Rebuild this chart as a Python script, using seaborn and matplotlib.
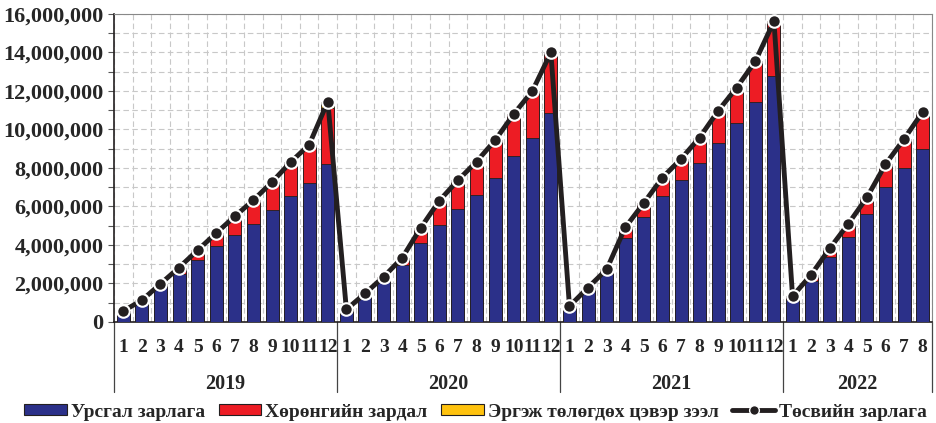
import seaborn as sns
import matplotlib.pyplot as plt
import matplotlib.transforms as mtransforms
from matplotlib.patches import Patch
from matplotlib.lines import Line2D
from matplotlib.ticker import FuncFormatter, MultipleLocator
import pandas as pd
import numpy as np

sns.set_style("white")
plt.rcParams['font.family'] = ['Liberation Serif', 'DejaVu Serif']
plt.rcParams['font.weight'] = 'bold'

# values in million tugrik
years = ["2019", "2020", "2021", "2022"]
months_per_year = [12, 12, 12, 8]

current_exp = [0.52, 1.04, 1.90, 2.48, 3.20, 3.96, 4.51, 5.07, 5.80, 6.53, 7.22, 8.21,
               0.58, 1.34, 2.12, 2.95, 4.08, 5.03, 5.87, 6.58, 7.50, 8.64, 9.58, 10.88,
               0.75, 1.65, 2.48, 4.37, 5.45, 6.54, 7.39, 8.24, 9.29, 10.33, 11.44, 12.77,
               1.13, 2.12, 3.38, 4.42, 5.59, 6.99, 7.98, 8.97]
capital_exp = [0.05, 0.09, 0.08, 0.35, 0.53, 0.66, 0.98, 1.26, 1.47, 1.77, 1.99, 2.89,
               0.07, 0.14, 0.22, 0.38, 0.81, 1.27, 1.49, 1.75, 1.94, 2.16, 2.41, 3.12,
               0.07, 0.14, 0.25, 0.54, 0.73, 0.96, 1.08, 1.34, 1.68, 1.85, 2.11, 2.85,
               0.21, 0.33, 0.44, 0.68, 0.88, 1.20, 1.53, 1.94]
net_lending = [0, 0, 0, 0, 0, 0, 0, 0, 0, 0, 0, 0.35,
               0, 0, 0, 0, 0, 0, 0, 0, 0, 0, 0, 0,
               0, 0, 0, 0, 0, 0, 0, 0, 0, 0, 0, -0.06,
               0, 0, 0, 0, 0, 0, 0, 0]
budget_exp = [0.57, 1.13, 1.98, 2.83, 3.73, 4.62, 5.49, 6.33, 7.27, 8.30, 9.21, 11.45,
              0.65, 1.48, 2.34, 3.33, 4.89, 6.30, 7.36, 8.33, 9.44, 10.80, 11.99, 14.00,
              0.82, 1.79, 2.73, 4.91, 6.18, 7.50, 8.47, 9.58, 10.97, 12.18, 13.55, 15.62,
              1.34, 2.45, 3.82, 5.10, 6.47, 8.19, 9.51, 10.91]

month_labels = [str(m) for n in months_per_year for m in range(1, n + 1)]

df = pd.DataFrame({
    "pos": np.arange(len(month_labels)),
    "current": np.array(current_exp) * 1e6,
    "capital": np.array(capital_exp) * 1e6,
    "lending": np.array(net_lending) * 1e6,
    "budget": np.array(budget_exp) * 1e6,
})
df["cur_cap"] = df["current"] + df["capital"]
df["cur_cap_pos_lend"] = df["cur_cap"] + df["lending"].clip(lower=0)
df["neg_lend"] = df["lending"].clip(upper=0)

c_blue, c_red, c_yel, c_line = "#2B3089", "#ED1C24", "#FFC20E", "#231F20"

fig = plt.figure(figsize=(9.36, 4.23), dpi=100)
ax = fig.add_axes([0.1218, 0.2388, 0.8739, 0.7281])

bar_kw = dict(width=0.7, saturation=1, edgecolor=c_line, linewidth=0.6, zorder=3)
sns.barplot(data=df, x="pos", y="cur_cap_pos_lend", color=c_yel, ax=ax, **bar_kw)
sns.barplot(data=df, x="pos", y="cur_cap", color=c_red, ax=ax, **bar_kw)
sns.barplot(data=df, x="pos", y="current", color=c_blue, ax=ax, **bar_kw)
sns.barplot(data=df, x="pos", y="neg_lend", color=c_yel, ax=ax, width=0.7,
            saturation=1, linewidth=0, zorder=3)

sns.lineplot(data=df, x="pos", y="budget", color=c_line, linewidth=3.5, marker="o",
             markersize=9, markerfacecolor=c_line, markeredgecolor="white",
             markeredgewidth=1.5, ax=ax, zorder=5)

ax.set_xlim(-0.5, len(month_labels) - 0.5)
ax.set_ylim(0, 16e6)
ax.yaxis.set_major_locator(MultipleLocator(2e6))
ax.yaxis.set_minor_locator(MultipleLocator(1e6))
ax.yaxis.set_major_formatter(FuncFormatter(lambda v, p: f"{v:,.0f}"))
ax.tick_params(axis="y", which="both", direction="out", length=4, width=0.8,
               labelsize=16, left=True, color="#555555")
ax.set_xticks(np.arange(len(month_labels)))
ax.set_xticks(np.arange(len(month_labels) + 1) - 0.5, minor=True)
ax.set_xticklabels(month_labels, fontsize=14, fontweight="bold")
ax.tick_params(axis="x", which="both", length=0, pad=12)
ax.grid(True, which="minor", axis="both", linestyle=(0, (5, 3)), color="#C8C8C8",
        linewidth=0.8, zorder=0)
ax.grid(True, which="major", axis="y", linestyle=(0, (5, 3)), color="#C8C8C8",
        linewidth=0.8, zorder=0)
ax.set_axisbelow(True)
ax.set_xlabel("")
ax.set_ylabel("")
for lab in ax.get_yticklabels():
    lab.set_fontweight("bold")

for side in ["left", "bottom"]:
    ax.spines[side].set_color(c_line)
    ax.spines[side].set_linewidth(1.2)
for side in ["top", "right"]:
    ax.spines[side].set_color("#888888")
    ax.spines[side].set_linewidth(0.8)

# year groups under the month labels
trans = mtransforms.blended_transform_factory(ax.transData, ax.transAxes)
start = 0
bounds = [-0.5]
for yr, n in zip(years, months_per_year):
    ax.text(start + (n - 1) / 2, -0.2, yr, transform=trans, ha="center", va="center",
            fontsize=14.5, fontweight="bold")
    start += n
    bounds.append(start - 0.5)
for b in bounds:
    ax.plot([b, b], [0, -0.228], transform=trans, color="#444444", linewidth=0.9,
            clip_on=False)

handles = [
    Patch(facecolor=c_blue, edgecolor=c_line, linewidth=0.8),
    Patch(facecolor=c_red, edgecolor=c_line, linewidth=0.8),
    Patch(facecolor=c_yel, edgecolor=c_line, linewidth=0.8),
    Line2D([], [], color=c_line, linewidth=3.5, marker="o", markersize=7,
           markerfacecolor=c_line, markeredgecolor="white"),
]
labels = ["Урсгал зарлага", "Хөрөнгийн зардал", "Эргэж төлөгдөх цэвэр зээл",
          "Төсвийн зарлага"]
fig.legend(handles, labels, loc="center", bbox_to_anchor=(0.508, 0.026), ncol=4,
           frameon=False,
           prop={"family": ["Liberation Serif", "DejaVu Serif"], "size": 14,
                 "weight": "bold"},
           handlelength=2.2, handleheight=0.5, handletextpad=0.2, columnspacing=0.7,
           borderaxespad=0, borderpad=0)

fig.savefig("out.png", dpi=100)
